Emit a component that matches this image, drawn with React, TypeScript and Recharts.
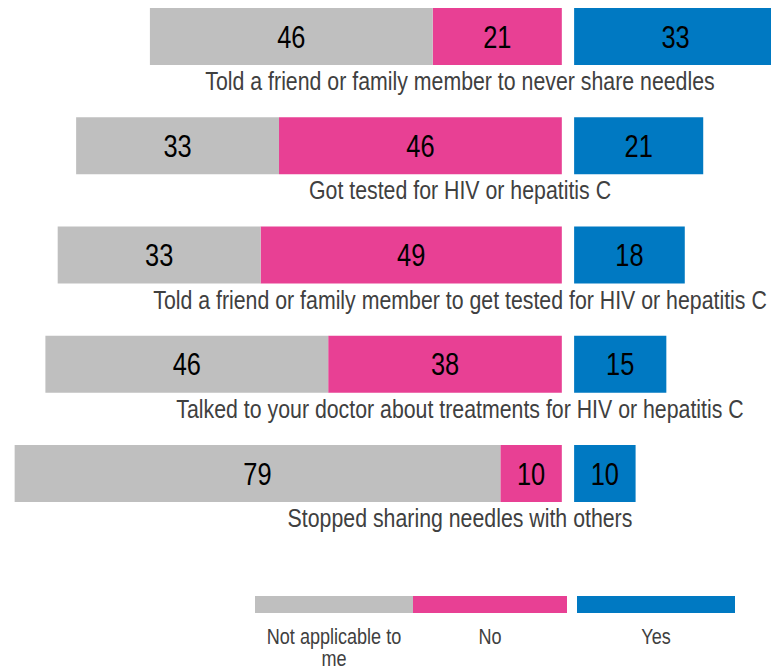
import { Bar, BarChart, LabelList, XAxis, YAxis } from 'recharts'

const categories = [
  'Told a friend or family member to never share needles',
  'Got tested for HIV or hepatitis C',
  'Told a friend or family member to get tested for HIV or hepatitis C',
  'Talked to your doctor about treatments for HIV or hepatitis C',
  'Stopped sharing needles with others'
]
const notApplicable = [46, 33, 33, 46, 79]
const no = [21, 46, 49, 38, 10]
const yes = [33, 21, 18, 15, 10]

const GRAY = '#bfbfbf'
const PINK = '#e84094'
const BLUE = '#0079c2'
// no Arial Narrow offline: Liberation Sans squeezed horizontally
const FONT = '"Liberation Sans", Arial, sans-serif'
const NARROW = 0.82

const legendItems = [
  { label: 'Not applicable to me', color: GRAY, width: 158, gap: 0 },
  { label: 'No', color: PINK, width: 154, gap: 0 },
  { label: 'Yes', color: BLUE, width: 158, gap: 10 }
]

// left side is stacked negative (pink next to zero), small spacer keeps a gap before blue
const chartData = categories.map((name, i) => ({
  name,
  no: -no[i],
  na: -notApplicable[i],
  spacer: 2,
  yes: yes[i]
}))

function NarrowText({ x, y, size, fill, children }: any) {
  return (
    <text
      transform={`translate(${x} ${y}) scale(${NARROW} 1)`}
      textAnchor="middle"
      fill={fill}
      fontSize={size}
      fontFamily={FONT}
    >
      {children}
    </text>
  )
}

function ValueLabel(props: any) {
  const { x, y, width, height, value, fill } = props
  const cx = Number(x) + Number(width) / 2
  const cy = Number(y) + Number(height) / 2 + 11
  return (
    <NarrowText x={cx} y={cy} size={31} fill={fill}>
      {Math.abs(Number(value))}
    </NarrowText>
  )
}

function CategoryLabel(props: any) {
  const { y, height, value } = props
  return (
    <NarrowText x={460} y={Number(y) + Number(height) + 25} size={26} fill="#404040">
      {value}
    </NarrowText>
  )
}

function LegendBlock() {
  return (
    <div style={{ position: 'absolute', left: 255, top: 596, display: 'flex', fontFamily: FONT }}>
      {legendItems.map((item) => (
        <div key={item.label} style={{ width: item.width, marginLeft: item.gap, position: 'relative' }}>
          <div style={{ height: 17, background: item.color }} />
          <div
            style={{
              position: 'absolute',
              top: 30,
              left: '50%',
              width: 180,
              transform: `translateX(-50%) scaleX(${NARROW})`,
              textAlign: 'center',
              fontSize: 22,
              lineHeight: '22px',
              color: '#404040'
            }}
          >
            {item.label}
          </div>
        </div>
      ))}
    </div>
  )
}

export default function App() {
  return (
    <div style={{ position: 'absolute', left: 0, top: 0, width: 771, height: 670, overflow: 'hidden', background: '#fff' }}>
      <div style={{ position: 'absolute', left: 0, top: -18 }}>
        <BarChart
          width={777}
          height={700}
          data={chartData}
          layout="vertical"
          stackOffset="sign"
          margin={{ top: 0, right: 0, bottom: 153.75, left: 8.5 }}
        >
          <XAxis type="number" domain={[-90, 35]} hide />
          <YAxis type="category" dataKey="name" hide />
          <Bar dataKey="no" stackId="a" fill={PINK} barSize={57} isAnimationActive={false}>
            <LabelList dataKey="no" content={<ValueLabel fill="#fff" />} />
          </Bar>
          <Bar dataKey="na" stackId="a" fill={GRAY} barSize={57} isAnimationActive={false}>
            <LabelList dataKey="na" content={<ValueLabel fill="#000" />} />
          </Bar>
          <Bar dataKey="spacer" stackId="a" fill="transparent" barSize={57} isAnimationActive={false} />
          <Bar dataKey="yes" stackId="a" fill={BLUE} barSize={57} isAnimationActive={false}>
            <LabelList dataKey="yes" content={<ValueLabel fill="#fff" />} />
            <LabelList dataKey="name" content={<CategoryLabel />} />
          </Bar>
        </BarChart>
      </div>
      <LegendBlock />
    </div>
  )
}
